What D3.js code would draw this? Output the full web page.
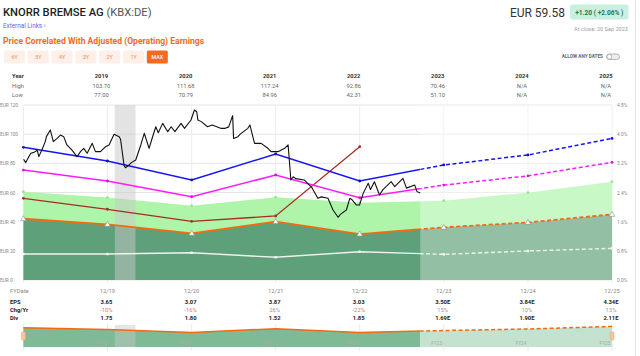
<!DOCTYPE html>
<html><head><meta charset="utf-8">
<script src="https://cdn.jsdelivr.net/npm/d3@7"></script>
<style>
html,body{margin:0;padding:0;background:#fff;}
svg{display:block;font-family:Roboto,"Open Sans",Arial,sans-serif;}
</style></head><body>
<svg id="c" width="640" height="356"></svg>
<script>
// ---------- DATA ----------
const fyYears = [2018, 2019, 2020, 2021, 2022, 2023, 2024, 2025];
const tableYears = ["2019", "2020", "2021", "2022", "2023", "2024", "2025"];
const yearHigh = ["103.70", "111.68", "117.24", "92.86", "70.46", "N/A", "N/A"];
const yearLow = ["77.00", "70.79", "84.96", "42.31", "51.10", "N/A", "N/A"];
const fyLabels = ["12/19", "12/20", "12/21", "12/22", "12/23", "12/24", "12/25"];
const epsLabels = ["3.65", "3.07", "3.87", "3.03", "3.50E", "3.84E", "4.34E"];
const chgLabels = ["-10%", "-16%", "26%", "-22%", "15%", "10%", "13%"];
const divLabels = ["1.75", "1.80", "1.52", "1.85", "1.69E", "1.90E", "2.11E"];
const navLabels = ["FY19", "FY20", "FY21", "FY22", "FY23", "FY24", "FY25"];

const earningsVals = [42.0, 38.2, 32.0, 40.0, 31.5, 36.1, 39.5, 45.0];   // orange
const greenTopVals = [60.6, 56.6, 51.0, 56.7, 53.0, 54.4, 59.9, 67.4];    // light green top
const blueVals     = [91.0, 81.6, 68.6, 86.4, 67.9, 78.9, 85.7, 97.1];
const magentaVals  = [75.4, 67.9, 57.1, 72.0, 56.4, 65.1, 71.4, 80.7];
const brownVals    = [56.0, 48.5, 40.2, 43.9, 91.4];                      // 2018-2022
const divLineVals  = [17.8, 17.8, 18.7, 15.6, 19.4, 17.6, 19.9, 21.7];    // white

const leftTickVals = [0, 20, 40, 60, 80, 100, 120];
const leftTickLabels = ["EUR 0", "EUR 20", "EUR 40", "EUR 60", "EUR 80", "EUR 100", "EUR 120"];
const rightTickLabels = ["0.0%", "0.8%", "1.6%", "2.4%", "3.2%", "4.0%", "4.8%"];

const priceDates = ["2019-01-01","2019-01-10","2019-02-01","2019-02-15","2019-03-01","2019-03-08","2019-03-22","2019-04-05","2019-04-10","2019-04-27","2019-05-10","2019-05-25","2019-06-10","2019-06-24","2019-07-08","2019-07-30","2019-08-21","2019-09-05","2019-09-19","2019-10-04","2019-10-26","2019-11-09","2019-12-01","2019-12-23",
"2020-01-07","2020-01-29","2020-02-20","2020-02-26","2020-03-12","2020-03-18","2020-04-03","2020-04-13","2020-05-02","2020-05-24","2020-06-08","2020-06-29","2020-07-10","2020-07-28","2020-08-08","2020-08-27","2020-09-18","2020-10-03","2020-10-19","2020-11-15","2020-11-30","2020-12-28",
"2021-01-12","2021-01-22","2021-01-27","2021-02-11","2021-03-10","2021-03-30","2021-05-06","2021-05-26","2021-06-10","2021-06-27","2021-07-01","2021-07-20","2021-07-30","2021-09-01","2021-09-10","2021-09-30","2021-10-29","2021-11-27","2021-12-11","2022-01-10","2022-02-08","2022-02-23",
"2022-03-07","2022-03-17","2022-03-28","2022-05-04","2022-05-26","2022-06-06","2022-07-02","2022-07-18","2022-08-15","2022-09-06","2022-09-28","2022-10-08","2022-11-03","2022-11-18","2022-11-28","2022-12-17","2022-12-30",
"2023-01-15","2023-02-06","2023-02-16","2023-03-05","2023-03-27","2023-04-11","2023-05-17","2023-06-01","2023-07-07","2023-07-22","2023-08-27","2023-09-06","2023-09-20"];
const priceVals = [82.8,80.5,86.9,87.5,89.0,84.6,89.5,94.9,98.3,102.9,94.9,97.0,99.4,98.3,92.6,89.0,84.6,88.0,90.3,86.9,93.7,88.0,88.0,91.4,
92.6,99.9,98.3,96.5,78.9,77.0,78.9,80.5,82.3,92.6,100.6,90.3,96.0,105.1,101.0,107.4,101.7,105.1,101.7,107.4,104.0,109.7,
116.6,115.4,109.7,108.6,105.1,106.3,104.0,104.0,105.0,112.7,97.1,98.3,100.0,104.0,106.3,93.7,93.7,90.3,88.0,88.0,90.3,92.6,
68.6,70.8,69.5,68.6,65.1,63.5,56.0,57.0,56.0,48.0,43.0,45.0,48.0,56.0,55.0,51.4,51.4,
59.4,66.3,62.0,67.4,58.3,62.0,67.4,64.0,69.7,63.0,65.1,60.6,59.58];

const todayStr = "2023-09-20";
const recession = ["2020-02-01", "2020-05-01"];

// ---------- SETUP ----------
const svg = d3.select("#c");
const P = d3.timeParse("%Y-%m-%d");
const fyDate = y => new Date(y, 11, 31);
const X0 = 23.4, X1 = 612;
const x = d3.scaleTime().domain([fyDate(2018), fyDate(2025)]).range([X0, X1]);
const y = d3.scaleLinear().domain([0, 120]).range([280, 105]);
const yR = d3.scaleLinear().domain([0, 4.8]).range([280, 105]);
const today = P(todayStr);
const xT = x(today);

const defs = svg.append("defs");
defs.append("clipPath").attr("id", "past").append("rect").attr("x", 0).attr("y", 0).attr("width", xT).attr("height", 356);
defs.append("clipPath").attr("id", "fut").append("rect").attr("x", xT).attr("y", 0).attr("width", 640 - xT).attr("height", 356);

// ---------- HEADER ----------
const hdr = svg.append("g");
const t1 = hdr.append("text").attr("x", 3).attr("y", 15.5).attr("font-size", 11.2).attr("fill", "#222");
t1.append("tspan").text("KNORR BREMSE AG").attr("font-weight", 500);
t1.append("tspan").text("  (KBX:DE)").attr("fill", "#555").attr("font-weight", 400);
hdr.append("text").attr("x", 3).attr("y", 28).attr("font-size", 6.3).attr("fill", "#5a66f0").text("External Links  ›");
hdr.append("text").attr("x", 3).attr("y", 43.5).attr("font-size", 8.6).attr("font-weight", 700).attr("fill", "#f26a21")
  .text("Price Correlated With Adjusted (Operating) Earnings");
const btns = ["6Y", "5Y", "4Y", "3Y", "2Y", "1Y", "MAX"];
btns.forEach((b, i) => {
  const bx = 4 + i * 23.8, isMax = b === "MAX";
  hdr.append("rect").attr("x", bx).attr("y", 50.5).attr("width", 21).attr("height", 13).attr("rx", 1.5)
    .attr("fill", isMax ? "#f46a1f" : "#fdf0e8");
  hdr.append("text").attr("x", bx + 10.5).attr("y", 59).attr("text-anchor", "middle").attr("font-size", 5.3)
    .attr("font-weight", 500).attr("fill", isMax ? "#fff" : "#f39a6a").text(b);
});
hdr.append("text").attr("x", 565).attr("y", 16.5).attr("text-anchor", "end").attr("font-size", 12).attr("fill", "#333").text("EUR 59.58");
hdr.append("rect").attr("x", 570).attr("y", 4.5).attr("width", 58.5).attr("height", 15).attr("rx", 2).attr("fill", "#c9efe0");
hdr.append("text").attr("x", 599.3).attr("y", 14.5).attr("text-anchor", "middle").attr("font-size", 6.6).attr("font-weight", 700)
  .attr("fill", "#1f7a4d").text("+1.20 ( +2.06% )");
hdr.append("text").attr("x", 628).attr("y", 31).attr("text-anchor", "end").attr("font-size", 5.6).attr("fill", "#a0a0a0").text("At close: 20 Sep 2023");
hdr.append("text").attr("x", 603).attr("y", 58).attr("text-anchor", "end").attr("font-size", 4.7).attr("font-weight", 700)
  .attr("fill", "#666").text("ALLOW ANY DATES");
hdr.append("rect").attr("x", 606.5).attr("y", 54).attr("width", 13).attr("height", 5.5).attr("rx", 2.75).attr("fill", "#eee").attr("stroke", "#999").attr("stroke-width", 0.7);
hdr.append("circle").attr("cx", 609.3).attr("cy", 56.75).attr("r", 2.4).attr("fill", "#fff").attr("stroke", "#999").attr("stroke-width", 0.7);

// right border
svg.append("line").attr("x1", 635.5).attr("x2", 635.5).attr("y1", 0).attr("y2", 356).attr("stroke", "#e4e4e4");

// ---------- TOP TABLE ----------
const tbl = svg.append("g").attr("font-size", 5.8);
const tickX = fyYears.slice(1).map(fy => x(fyDate(fy)));
tbl.append("text").attr("x", 12).attr("y", 78).attr("font-weight", 700).attr("fill", "#333").text("Year");
tbl.append("text").attr("x", 12).attr("y", 88).attr("fill", "#666").text("High");
tbl.append("text").attr("x", 12).attr("y", 97).attr("fill", "#666").text("Low");
tableYears.forEach((t, i) => {
  const cx = tickX[i] - 6;
  tbl.append("text").attr("x", cx).attr("y", 78).attr("text-anchor", "middle").attr("font-weight", 700).attr("fill", "#333").text(t);
  tbl.append("text").attr("x", cx).attr("y", 88).attr("text-anchor", "middle").attr("fill", "#666").text(yearHigh[i]);
  tbl.append("text").attr("x", cx).attr("y", 97).attr("text-anchor", "middle").attr("fill", "#666").text(yearLow[i]);
});

// ---------- GRID ----------
const grid = svg.append("g");
leftTickVals.forEach(v => {
  grid.append("line").attr("x1", X0).attr("x2", X1).attr("y1", y(v)).attr("y2", y(v)).attr("stroke", "#e6e6e6").attr("stroke-width", 1);
});
fyYears.forEach(fy => {
  grid.append("line").attr("x1", x(fyDate(fy))).attr("x2", x(fyDate(fy))).attr("y1", 105).attr("y2", 283).attr("stroke", "#ececec");
});

// ---------- AREAS ----------
const pts = fyYears.map((fy, i) => ({ d: fyDate(fy), e: earningsVals[i], g: greenTopVals[i] }));
svg.append("path").datum(pts).attr("fill", "#aef5a9")
  .attr("d", d3.area().x(d => x(d.d)).y0(d => y(d.e)).y1(d => y(d.g)));
svg.append("path").datum(pts).attr("fill", "#5ea07a")
  .attr("d", d3.area().x(d => x(d.d)).y0(y(0)).y1(d => y(d.e)));
// future overlay
svg.append("rect").attr("x", xT).attr("y", 105).attr("width", X1 - xT).attr("height", 175).attr("fill", "#fff").attr("opacity", 0.33);
// recession band
svg.append("rect").attr("x", x(P(recession[0]))).attr("width", x(P(recession[1])) - x(P(recession[0])))
  .attr("y", 105).attr("height", 175).attr("fill", "#c8c8c8").attr("opacity", 0.5);

// ---------- AXIS LABELS ----------
const yAxL = svg.append("g").attr("transform", `translate(${X0 - 4},0)`)
  .call(d3.axisLeft(y).tickValues(leftTickVals).tickFormat((d, i) => leftTickLabels[i]).tickSize(0));
yAxL.select(".domain").remove();
yAxL.selectAll("text").attr("font-size", 4.8).attr("fill", "#888").attr("text-anchor", "start").attr("x", -19.5).attr("font-family", "Roboto,sans-serif");
const yAxR = svg.append("g").attr("transform", `translate(${X1 + 2},0)`)
  .call(d3.axisRight(yR).tickValues([0, 0.8, 1.6, 2.4, 3.2, 4.0, 4.8]).tickFormat((d, i) => rightTickLabels[i]).tickSize(0));
yAxR.select(".domain").remove();
yAxR.selectAll("text").attr("font-size", 4.8).attr("fill", "#888").attr("font-family", "Roboto,sans-serif");

// ---------- LINES ----------
function splitLine(vals, color, width, dash, marker) {
  const data = vals.map((v, i) => ({ d: fyDate(fyYears[i]), v }));
  const gen = d3.line().x(d => x(d.d)).y(d => y(d.v));
  svg.append("path").datum(data).attr("fill", "none").attr("stroke", color).attr("stroke-width", width)
    .attr("clip-path", "url(#past)").attr("d", gen);
  svg.append("path").datum(data).attr("fill", "none").attr("stroke", color).attr("stroke-width", width)
    .attr("stroke-dasharray", dash).attr("clip-path", "url(#fut)").attr("d", gen);
  if (marker) {
    svg.selectAll(null).data(data).enter().append("circle").attr("cx", d => x(d.d)).attr("cy", d => y(d.v))
      .attr("r", 1.4).attr("fill", marker);
  }
  return data;
}
// light green top dots
svg.selectAll(null).data(pts).enter().append("circle").attr("cx", d => x(d.d)).attr("cy", d => y(d.g)).attr("r", 1.3).attr("fill", "#8ee58a");
splitLine(divLineVals, "#eef3ee", 1.4, "4,2.5", null);
svg.selectAll(null).data(divLineVals).enter().append("rect")
  .attr("x", (d, i) => x(fyDate(fyYears[i])) - 1.2).attr("y", d => y(d) - 1.2).attr("width", 2.4).attr("height", 2.4).attr("fill", "#f4f4f4");
const brownData = brownVals.map((v, i) => ({ d: fyDate(fyYears[i]), v }));
svg.append("path").datum(brownData).attr("fill", "none").attr("stroke", "#a82c24").attr("stroke-width", 1.3)
  .attr("d", d3.line().x(d => x(d.d)).y(d => y(d.v)));
svg.selectAll(null).data(brownData).enter().append("circle").attr("cx", d => x(d.d)).attr("cy", d => y(d.v)).attr("r", 1.4).attr("fill", "#a82c24");
splitLine(magentaVals, "#ff1aff", 1.5, "4,2.5", "#e010e0");
splitLine(blueVals, "#1414f5", 1.5, "4,2.5", "#1010c0");
const eData = splitLine(earningsVals, "#f46a10", 1.8, "4,2.5", null);
svg.selectAll(null).data(eData).enter().append("path")
  .attr("transform", d => `translate(${x(d.d)},${y(d.v) + 0.3})`)
  .attr("d", d3.symbol(d3.symbolTriangle, 14)).attr("fill", "#fff").attr("stroke", "#8a8a8a").attr("stroke-width", 0.6);

// ---------- PRICE ----------
const price = priceDates.map((s, i) => ({ d: P(s), v: priceVals[i] }));
svg.append("path").datum(price).attr("fill", "none").attr("stroke", "#111").attr("stroke-width", 1.1)
  .attr("stroke-linejoin", "round").attr("d", d3.line().x(d => x(d.d)).y(d => y(d.v)));

// ---------- BOTTOM TABLE ----------
const bt = svg.append("g").attr("font-size", 5.8);
bt.append("text").attr("x", 10).attr("y", 293).attr("fill", "#888").text("FYDate");
bt.append("text").attr("x", 10).attr("y", 304).attr("fill", "#222").attr("font-weight", 700).text("EPS");
bt.append("text").attr("x", 10).attr("y", 311.5).attr("fill", "#222").attr("font-weight", 700).text("Chg/Yr");
bt.append("text").attr("x", 10).attr("y", 319.5).attr("fill", "#222").attr("font-weight", 700).text("Div");
fyLabels.forEach((t, i) => {
  const cx = tickX[i];
  bt.append("text").attr("x", cx).attr("y", 293).attr("text-anchor", "middle").attr("fill", "#888").text(t);
  bt.append("text").attr("x", cx - 1).attr("y", 304).attr("text-anchor", "middle").attr("fill", "#222").attr("font-weight", 700).text(epsLabels[i]);
  bt.append("text").attr("x", cx - 1).attr("y", 311.5).attr("text-anchor", "middle")
    .attr("fill", chgLabels[i].startsWith("-") ? "#e8735f" : "#999").text(chgLabels[i]);
  bt.append("text").attr("x", cx - 1).attr("y", 319.5).attr("text-anchor", "middle").attr("fill", "#222").attr("font-weight", 700).text(divLabels[i]);
});

// ---------- NAVIGATOR ----------
const yN = d3.scaleLinear().domain([0, 46]).range([347, 326]);
const nav = svg.append("g");
fyYears.forEach(fy => {
  nav.append("line").attr("x1", x(fyDate(fy))).attr("x2", x(fyDate(fy))).attr("y1", 324).attr("y2", 351).attr("stroke", "#eaeaea");
});
const navArea = d3.area().x(d => x(d.d)).y0(yN(0)).y1(d => yN(d.v));
nav.append("path").datum(eData).attr("fill", "#7fba96").attr("clip-path", "url(#past)").attr("d", navArea);
nav.append("path").datum(eData).attr("fill", "#c3e2cf").attr("clip-path", "url(#fut)").attr("d", navArea);
nav.append("rect").attr("x", x(P(recession[0]))).attr("width", x(P(recession[1])) - x(P(recession[0])))
  .attr("y", 325).attr("height", 22).attr("fill", "#c8c8c8").attr("opacity", 0.45);
const navLine = d3.line().x(d => x(d.d)).y(d => yN(d.v));
nav.append("path").datum(eData).attr("fill", "none").attr("stroke", "#f46a10").attr("stroke-width", 1.5).attr("clip-path", "url(#past)").attr("d", navLine);
nav.append("path").datum(eData).attr("fill", "none").attr("stroke", "#f46a10").attr("stroke-width", 1.5).attr("stroke-dasharray", "4,2.5").attr("clip-path", "url(#fut)").attr("d", navLine);
navLabels.forEach((t, i) => {
  nav.append("text").attr("x", tickX[i] - 7).attr("y", 345).attr("text-anchor", "middle").attr("font-size", 4.8).attr("fill", "#aaa").text(t);
});
[X0, X1].forEach(hx => {
  nav.append("rect").attr("x", hx - 2).attr("y", 332).attr("width", 4).attr("height", 8).attr("rx", 1)
    .attr("fill", "#f9c49e").attr("stroke", "#f0a070").attr("stroke-width", 0.5);
});
</script>
</body></html>
